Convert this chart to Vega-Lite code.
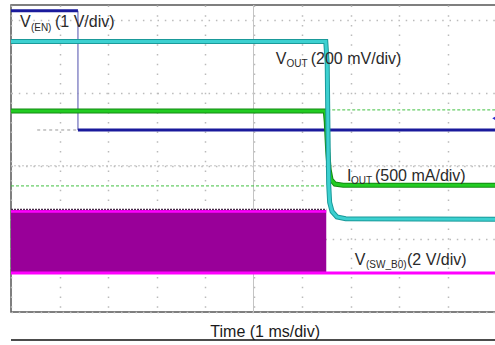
{
  "$schema": "https://vega.github.io/schema/vega-lite/v6.json",
  "autosize": {"type": "none"},
  "padding": {"left": 11, "top": 5, "right": 0, "bottom": 33},
  "width": 485,
  "height": 307,
  "background": "white",
  "config": {"view": {"stroke": "#555555", "strokeWidth": 1.5}},
  "datasets": {
    "grid": [{"t": 0, "v": 0}],
    "en": [
      {"seg": "high", "t": 0, "v": 8.24}, {"seg": "high", "t": 1.38, "v": 8.24},
      {"seg": "low", "t": 1.38, "v": 4.98}, {"seg": "low", "t": 10, "v": 4.98}
    ],
    "enEdge": [{"t": 1.38, "v0": 4.98, "v1": 8.24}],
    "enMark": [{"t0": 0.54, "t1": 1.38, "v": 4.98}],
    "enPointer": [{"t": 9.96, "v": 5.3}],
    "vout": [
      {"t": 0, "v": 7.40}, {"t": 6.49, "v": 7.40}, {"t": 6.52, "v": 6.8}, {"t": 6.535, "v": 5.0},
      {"t": 6.55, "v": 3.5}, {"t": 6.57, "v": 3.0}, {"t": 6.62, "v": 2.75}, {"t": 6.72, "v": 2.6},
      {"t": 6.9, "v": 2.55}, {"t": 10, "v": 2.54}
    ],
    "iout": [
      {"t": 0, "v": 5.50}, {"t": 6.48, "v": 5.50}, {"t": 6.50, "v": 5.2}, {"t": 6.53, "v": 4.4},
      {"t": 6.56, "v": 3.9}, {"t": 6.6, "v": 3.62}, {"t": 6.68, "v": 3.5}, {"t": 6.85, "v": 3.47},
      {"t": 10, "v": 3.47}
    ],
    "ref": [
      {"seg": "a", "t": 0, "v": 3.45}, {"seg": "a", "t": 6.49, "v": 3.45},
      {"seg": "b", "t": 6.52, "v": 5.53}, {"seg": "b", "t": 10, "v": 5.53}
    ],
    "swBlock": [{"t0": 0, "t1": 6.5, "lo": 1.08, "hi": 2.79}],
    "swTop": [{"t": 0, "v": 2.75}, {"t": 6.5, "v": 2.75}],
    "swNoise": [{"t": 0, "v": 2.81}, {"t": 6.5, "v": 2.81}],
    "swLow": [{"t": 0, "v": 1.07}, {"t": 10, "v": 1.07}],
    "main": [
      {"t": 0.186, "v": 7.80, "txt": "V"}, {"t": 0.907, "v": 7.80, "txt": "(1 V/div)"},
      {"t": 5.46, "v": 6.79, "txt": "V"}, {"t": 6.18, "v": 6.79, "txt": "(200 mV/div)"},
      {"t": 6.93, "v": 3.58, "txt": "I"}, {"t": 7.505, "v": 3.58, "txt": "(500 mA/div)"},
      {"t": 7.09, "v": 1.29, "txt": "V"}, {"t": 8.165, "v": 1.29, "txt": "(2 V/div)"}
    ],
    "sub": [
      {"t": 0.41, "v": 7.69, "txt": "(EN)"},
      {"t": 5.68, "v": 6.70, "txt": "OUT"},
      {"t": 7.01, "v": 3.50, "txt": "OUT"},
      {"t": 7.32, "v": 1.20, "txt": "(SW_B0)"}
    ],
    "title": [{"t": 5.24, "v": -0.684, "txt": "Time (1 ms/div)"}],
    "underline": [{"t0": 0, "t1": 10, "v": -0.766}]
  },
  "layer": [
    {
      "data": {"name": "grid"},
      "mark": {"type": "point", "opacity": 0},
      "encoding": {
        "x": {"field": "t", "type": "quantitative", "scale": {"domain": [0, 10], "nice": false, "zero": false},
          "axis": {"values": [0,1,2,3,4,5,6,7,8,9,10], "grid": true, "gridColor": "#bbbbbb", "gridDash": [1.5, 8.2], "gridWidth": 1.5, "ticks": false, "labels": false, "domain": false, "title": null}},
        "y": {"field": "v", "type": "quantitative", "scale": {"domain": [0, 8.4], "nice": false, "zero": false},
          "axis": {"values": [0,1,2,3,4,5,6,7,8], "grid": true, "gridColor": "#bbbbbb", "gridDash": [1.5, 5.8], "gridWidth": 1.5, "ticks": false, "labels": false, "domain": false, "title": null}}
      }
    },
    {
      "data": {"values": [{"t": 5}]},
      "mark": {"type": "rule", "color": "#c4c4c4", "strokeWidth": 1},
      "encoding": {"x": {"field": "t", "type": "quantitative"}}
    },
    {
      "data": {"values": [{"v": 4}]},
      "mark": {"type": "rule", "color": "#c4c4c4", "strokeWidth": 1, "strokeDash": [2, 2]},
      "encoding": {"y": {"field": "v", "type": "quantitative"}}
    },
    {
      "data": {"name": "ref"},
      "mark": {"type": "line", "color": "#40c040", "strokeWidth": 1, "strokeDash": [3, 2]},
      "encoding": {"x": {"field": "t", "type": "quantitative"}, "y": {"field": "v", "type": "quantitative"}, "detail": {"field": "seg"}}
    },
    {
      "data": {"name": "enMark"},
      "mark": {"type": "rule", "color": "#999999", "strokeWidth": 1, "strokeDash": [3, 3]},
      "encoding": {"x": {"field": "t0", "type": "quantitative"}, "x2": {"field": "t1"}, "y": {"field": "v", "type": "quantitative"}}
    },
    {
      "data": {"name": "swBlock"},
      "mark": {"type": "rect", "color": "#990099"},
      "encoding": {"x": {"field": "t0", "type": "quantitative"}, "x2": {"field": "t1"}, "y": {"field": "lo", "type": "quantitative"}, "y2": {"field": "hi"}}
    },
    {
      "data": {"name": "swNoise"},
      "mark": {"type": "line", "color": "#4a2a4a", "strokeWidth": 1.2, "strokeDash": [2, 1]},
      "encoding": {"x": {"field": "t", "type": "quantitative"}, "y": {"field": "v", "type": "quantitative"}}
    },
    {
      "data": {"name": "swTop"},
      "mark": {"type": "line", "color": "#ff00ff", "strokeWidth": 2.5},
      "encoding": {"x": {"field": "t", "type": "quantitative"}, "y": {"field": "v", "type": "quantitative"}}
    },
    {
      "data": {"name": "swLow"},
      "mark": {"type": "line", "color": "#ff00ff", "strokeWidth": 3},
      "encoding": {"x": {"field": "t", "type": "quantitative"}, "y": {"field": "v", "type": "quantitative"}}
    },
    {
      "data": {"name": "enEdge"},
      "mark": {"type": "rule", "color": "#8a8ac8", "strokeWidth": 1.5},
      "encoding": {"x": {"field": "t", "type": "quantitative"}, "y": {"field": "v0", "type": "quantitative"}, "y2": {"field": "v1"}}
    },
    {
      "data": {"name": "en"},
      "mark": {"type": "line", "color": "#1a1a9c", "strokeWidth": 3},
      "encoding": {"x": {"field": "t", "type": "quantitative"}, "y": {"field": "v", "type": "quantitative"}, "detail": {"field": "seg"}}
    },
    {
      "data": {"name": "enPointer"},
      "mark": {"type": "point", "filled": true, "color": "#2a2ad0", "size": 18, "shape": "triangle-left", "opacity": 1},
      "encoding": {"x": {"field": "t", "type": "quantitative"}, "y": {"field": "v", "type": "quantitative"}}
    },
    {
      "data": {"name": "iout"},
      "mark": {"type": "line", "color": "#138a13", "strokeWidth": 5},
      "encoding": {"x": {"field": "t", "type": "quantitative"}, "y": {"field": "v", "type": "quantitative"}}
    },
    {
      "data": {"name": "iout"},
      "mark": {"type": "line", "color": "#22cc22", "strokeWidth": 3},
      "encoding": {"x": {"field": "t", "type": "quantitative"}, "y": {"field": "v", "type": "quantitative"}}
    },
    {
      "data": {"name": "vout"},
      "mark": {"type": "line", "color": "#1a9a9a", "strokeWidth": 5},
      "encoding": {"x": {"field": "t", "type": "quantitative"}, "y": {"field": "v", "type": "quantitative"}}
    },
    {
      "data": {"name": "vout"},
      "mark": {"type": "line", "color": "#3cd0d0", "strokeWidth": 3},
      "encoding": {"x": {"field": "t", "type": "quantitative"}, "y": {"field": "v", "type": "quantitative"}}
    },
    {
      "data": {"name": "main"},
      "mark": {"type": "text", "align": "left", "baseline": "alphabetic", "font": "Liberation Sans", "fontSize": 16, "color": "#2a2a2a"},
      "encoding": {"x": {"field": "t", "type": "quantitative"}, "y": {"field": "v", "type": "quantitative"}, "text": {"field": "txt"}}
    },
    {
      "data": {"name": "sub"},
      "mark": {"type": "text", "align": "left", "baseline": "alphabetic", "font": "Liberation Sans", "fontSize": 10, "color": "#2a2a2a"},
      "encoding": {"x": {"field": "t", "type": "quantitative"}, "y": {"field": "v", "type": "quantitative"}, "text": {"field": "txt"}}
    },
    {
      "data": {"name": "title"},
      "mark": {"type": "text", "align": "center", "baseline": "alphabetic", "font": "Liberation Sans", "fontSize": 16, "color": "#1a1a1a"},
      "encoding": {"x": {"field": "t", "type": "quantitative"}, "y": {"field": "v", "type": "quantitative"}, "text": {"field": "txt"}}
    },
    {
      "data": {"name": "underline"},
      "mark": {"type": "rule", "color": "#111111", "strokeWidth": 1.5},
      "encoding": {"x": {"field": "t0", "type": "quantitative"}, "x2": {"field": "t1"}, "y": {"field": "v", "type": "quantitative"}}
    }
  ]
}
